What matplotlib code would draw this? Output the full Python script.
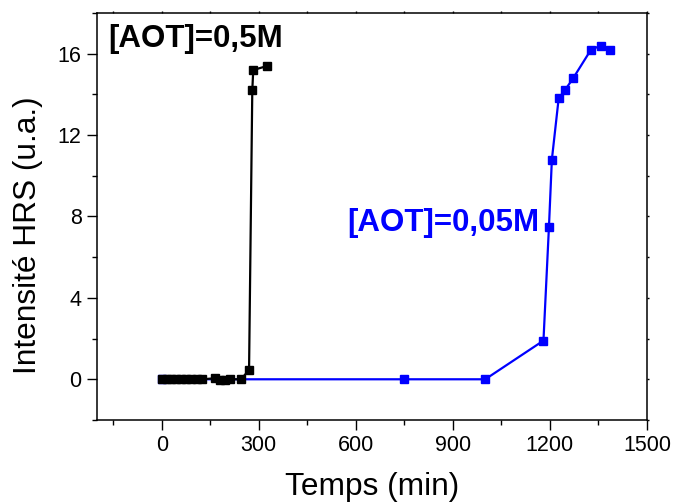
import matplotlib
matplotlib.use("Agg")
import matplotlib.pyplot as plt
from matplotlib.ticker import MultipleLocator

plt.rcParams["font.family"] = ["Liberation Sans", "DejaVu Sans"]

# [AOT]=0,5M series
t_05 = [0, 15, 30, 45, 60, 75, 90, 110, 125, 165, 180, 195, 210, 245, 270, 280, 283, 327]
i_05 = [0, 0, 0, 0, 0, 0, 0, 0, 0, 0.05, -0.05, -0.05, 0, 0, 0.45, 14.2, 15.2, 15.4]

# [AOT]=0,05M series
t_005 = [0, 750, 1000, 1180, 1197, 1206, 1227, 1246, 1272, 1327, 1358, 1387]
i_005 = [0, 0, 0, 1.9, 7.5, 10.8, 13.8, 14.2, 14.8, 16.2, 16.4, 16.2]

fig = plt.figure(figsize=(6.75, 5.04), dpi=100)
ax = fig.add_axes([0.1437, 0.1667, 0.8148, 0.8075])

ax.plot(t_005, i_005, color="#0000ff", lw=1.6, marker="s", ms=5.5, zorder=2)
ax.plot(t_05, i_05, color="black", lw=1.6, marker="s", ms=5.5, zorder=3)

ax.set_xlim(-200, 1500)
ax.set_ylim(-2, 18)
ax.xaxis.set_major_locator(MultipleLocator(300))
ax.xaxis.set_minor_locator(MultipleLocator(150))
ax.yaxis.set_major_locator(MultipleLocator(4))
ax.yaxis.set_minor_locator(MultipleLocator(2))

for s in ax.spines.values():
    s.set_linewidth(1.1)

ax.tick_params(which="major", direction="out", length=7, width=1.0, labelsize=15.5, pad=4)
ax.tick_params(which="minor", direction="out", length=3.8, width=1.0)
ax.tick_params(which="both", top=True, right=True)
# tiny mirrored ticks on top/right, as in Origin
for t in ax.xaxis.get_major_ticks() + ax.xaxis.get_minor_ticks():
    t.tick2line.set_markersize(1.5)
for t in ax.yaxis.get_major_ticks() + ax.yaxis.get_minor_ticks():
    t.tick2line.set_markersize(1.5)

ax.set_xlabel("Temps (min)", fontsize=22.8, labelpad=11)
ax.set_ylabel("Intensité HRS (u.a.)", fontsize=22.8)
ax.yaxis.set_label_coords(-0.098, 0.453)

ax.text(-164, 16.7, "[AOT]=0,5M", fontsize=22.5, fontweight="bold", color="black",
        ha="left", va="center")
ax.text(575, 7.7, "[AOT]=0,05M", fontsize=22.5, fontweight="bold", color="#0000ff",
        ha="left", va="center")

fig.savefig("out.png", dpi=100)
